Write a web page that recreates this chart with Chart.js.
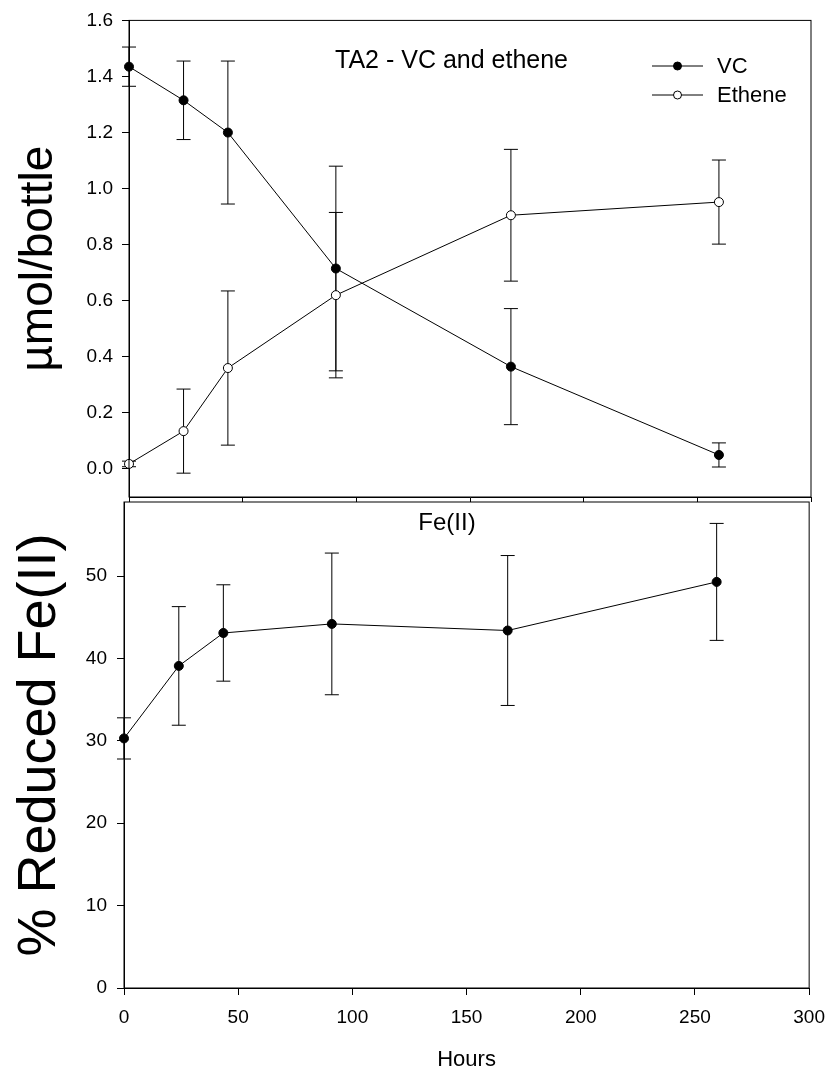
<!DOCTYPE html>
<html lang="en">
<head>
<meta charset="UTF-8">
<title>TA2 - VC and ethene / Fe(II)</title>
<script src="https://cdn.jsdelivr.net/npm/chart.js"></script>
<style>
  body { margin: 0; background: #fff; }
  #wrap { position: relative; width: 836px; height: 1073px; }
  canvas { position: absolute; left: 0; top: 0; }
</style>
</head>
<body>
<div id="wrap">
  <canvas id="topChart" width="836" height="1073"></canvas>
  <canvas id="feChart" width="836" height="1073"></canvas>
</div>
<script>
  // values
  const hours = [0, 24, 43.5, 91, 168, 259.5];
  const vc = [1.435, 1.315, 1.2, 0.715, 0.365, 0.05];
  const vcErr = [0.07, 0.14, 0.255, 0.365, 0.207, 0.043];
  const ethene = [0.018, 0.135, 0.36, 0.62, 0.905, 0.952];
  const etheneErr = [0.01, 0.15, 0.275, 0.295, 0.235, 0.15];
  const fe = [30.3, 39.1, 43.1, 44.2, 43.4, 49.3];
  const feErr = [2.5, 7.2, 5.85, 8.6, 9.1, 7.1];

  const xTicks = [0, 50, 100, 150, 200, 250, 300];
  const topYTicks = [0.0, 0.2, 0.4, 0.6, 0.8, 1.0, 1.2, 1.4, 1.6];
  const feYTicks = [0, 10, 20, 30, 40, 50];

  Chart.defaults.font.family = "'Liberation Sans', Arial, sans-serif";
  Chart.defaults.color = '#000';

  const pts = (ys) => hours.map((h, i) => ({ x: h, y: ys[i] }));
  const useTicks = (list) => (scale) => { scale.ticks = list.map(v => ({ value: v })); };

  // vertical error bars with caps, drawn under the markers
  const errorBars = {
    id: 'errorBars',
    beforeDatasetsDraw(chart) {
      const { ctx, scales: { x, y } } = chart;
      ctx.save();
      ctx.strokeStyle = '#000';
      ctx.lineWidth = 1;
      chart.data.datasets.forEach(ds => {
        if (!ds.errors) return;
        ds.data.forEach((p, i) => {
          const px = x.getPixelForValue(p.x);
          const hi = y.getPixelForValue(p.y + ds.errors[i]);
          const lo = y.getPixelForValue(p.y - ds.errors[i]);
          ctx.beginPath();
          ctx.moveTo(px, hi); ctx.lineTo(px, lo);
          ctx.moveTo(px - 7, hi); ctx.lineTo(px + 7, hi);
          ctx.moveTo(px - 7, lo); ctx.lineTo(px + 7, lo);
          ctx.stroke();
        });
      });
      ctx.restore();
    }
  };

  // box around the plot area + panel caption + optional line legend
  const panelDeco = {
    id: 'panelDeco',
    afterDraw(chart, args, opts) {
      const { ctx, chartArea: a } = chart;
      ctx.save();
      ctx.strokeStyle = '#000';
      ctx.lineWidth = 1;
      ctx.strokeRect(a.left, a.top, a.right - a.left, a.bottom - a.top);

      ctx.fillStyle = '#000';
      ctx.font = opts.captionFont;
      ctx.textAlign = opts.captionAlign;
      ctx.textBaseline = 'alphabetic';
      ctx.fillText(opts.caption, opts.captionX, opts.captionY);

      if (opts.legend) {
        const L = opts.legend;
        ctx.font = L.font;
        ctx.textAlign = 'left';
        ctx.textBaseline = 'middle';
        chart.data.datasets.forEach((ds, i) => {
          const y = L.y + i * L.gap;
          ctx.beginPath();
          ctx.moveTo(L.x, y); ctx.lineTo(L.x + L.len, y);
          ctx.stroke();
          ctx.beginPath();
          ctx.arc(L.x + L.len / 2, y, 4, 0, Math.PI * 2);
          ctx.fillStyle = ds.pointBackgroundColor;
          ctx.fill();
          ctx.stroke();
          ctx.fillStyle = '#000';
          ctx.fillText(ds.label, L.x + L.len + 14, y + 1);
        });
      }
      ctx.restore();
    }
  };

  const tickFont = { size: 19 };
  const axisGrid = { drawOnChartArea: false, tickLength: 7, color: '#000' };

  new Chart(document.getElementById('topChart'), {
    type: 'line',
    data: {
      datasets: [
        { label: 'VC', data: pts(vc), errors: vcErr, borderColor: '#000', borderWidth: 1,
          pointRadius: 4.5, pointBackgroundColor: '#000', pointBorderColor: '#000', clip: false },
        { label: 'Ethene', data: pts(ethene), errors: etheneErr, borderColor: '#000', borderWidth: 1,
          pointRadius: 4.5, pointBackgroundColor: '#fff', pointBorderColor: '#000', clip: false }
      ]
    },
    options: {
      responsive: false,
      animation: false,
      layout: { padding: { top: 17, right: 25, bottom: 570, left: 0 }, autoPadding: false },
      plugins: {
        legend: { display: false },
        tooltip: { enabled: false },
        panelDeco: {
          caption: 'TA2 - VC and ethene', captionFont: "25px 'Liberation Sans', Arial, sans-serif",
          captionAlign: 'left', captionX: 335, captionY: 68,
          legend: { x: 652, y: 66, gap: 29, len: 51, font: "22px 'Liberation Sans', Arial, sans-serif" }
        }
      },
      scales: {
        x: {
          type: 'linear', min: 0, max: 300,
          afterBuildTicks: useTicks(xTicks),
          afterFit: (s) => { s.height = 6; },
          ticks: { display: false },
          grid: { drawOnChartArea: false, tickLength: 5, color: '#000' },
          border: { color: '#000' }
        },
        y: {
          type: 'linear', min: -0.1, max: 1.6,
          afterBuildTicks: useTicks(topYTicks),
          afterFit: (s) => { s.width = 129; },
          ticks: { font: tickFont, padding: 9, callback: (v) => v.toFixed(1) },
          grid: axisGrid,
          border: { color: '#000' },
          title: { display: true, text: 'µmol/bottle', font: { size: 46 }, padding: { top: 12 } }
        }
      }
    },
    plugins: [errorBars, panelDeco]
  });

  new Chart(document.getElementById('feChart'), {
    type: 'line',
    data: {
      datasets: [
        { label: 'Fe(II)', data: pts(fe), errors: feErr, borderColor: '#000', borderWidth: 1,
          pointRadius: 4.5, pointBackgroundColor: '#000', pointBorderColor: '#000', clip: false }
      ]
    },
    options: {
      responsive: false,
      animation: false,
      layout: { padding: { top: 502, right: 19, bottom: 0, left: 0 }, autoPadding: false },
      plugins: {
        legend: { display: false },
        tooltip: { enabled: false },
        panelDeco: {
          caption: 'Fe(II)', captionFont: "24px 'Liberation Sans', Arial, sans-serif",
          captionAlign: 'center', captionX: 447, captionY: 530
        }
      },
      scales: {
        x: {
          type: 'linear', min: 0, max: 300,
          afterBuildTicks: useTicks(xTicks),
          afterFit: (s) => { s.height = 85; },
          ticks: { font: tickFont, padding: 11 },
          grid: axisGrid,
          border: { color: '#000' },
          title: { display: true, text: 'Hours', font: { size: 22 }, padding: { top: 0, bottom: 0 } }
        },
        y: {
          type: 'linear', min: 0, max: 59,
          afterBuildTicks: useTicks(feYTicks),
          afterFit: (s) => { s.width = 124; },
          ticks: { font: tickFont, padding: 10 },
          grid: axisGrid,
          border: { color: '#000' },
          title: { display: true, text: '% Reduced Fe(II)', font: { size: 54 }, padding: { top: 8 } }
        }
      }
    },
    plugins: [errorBars, panelDeco]
  });
</script>
</body>
</html>
